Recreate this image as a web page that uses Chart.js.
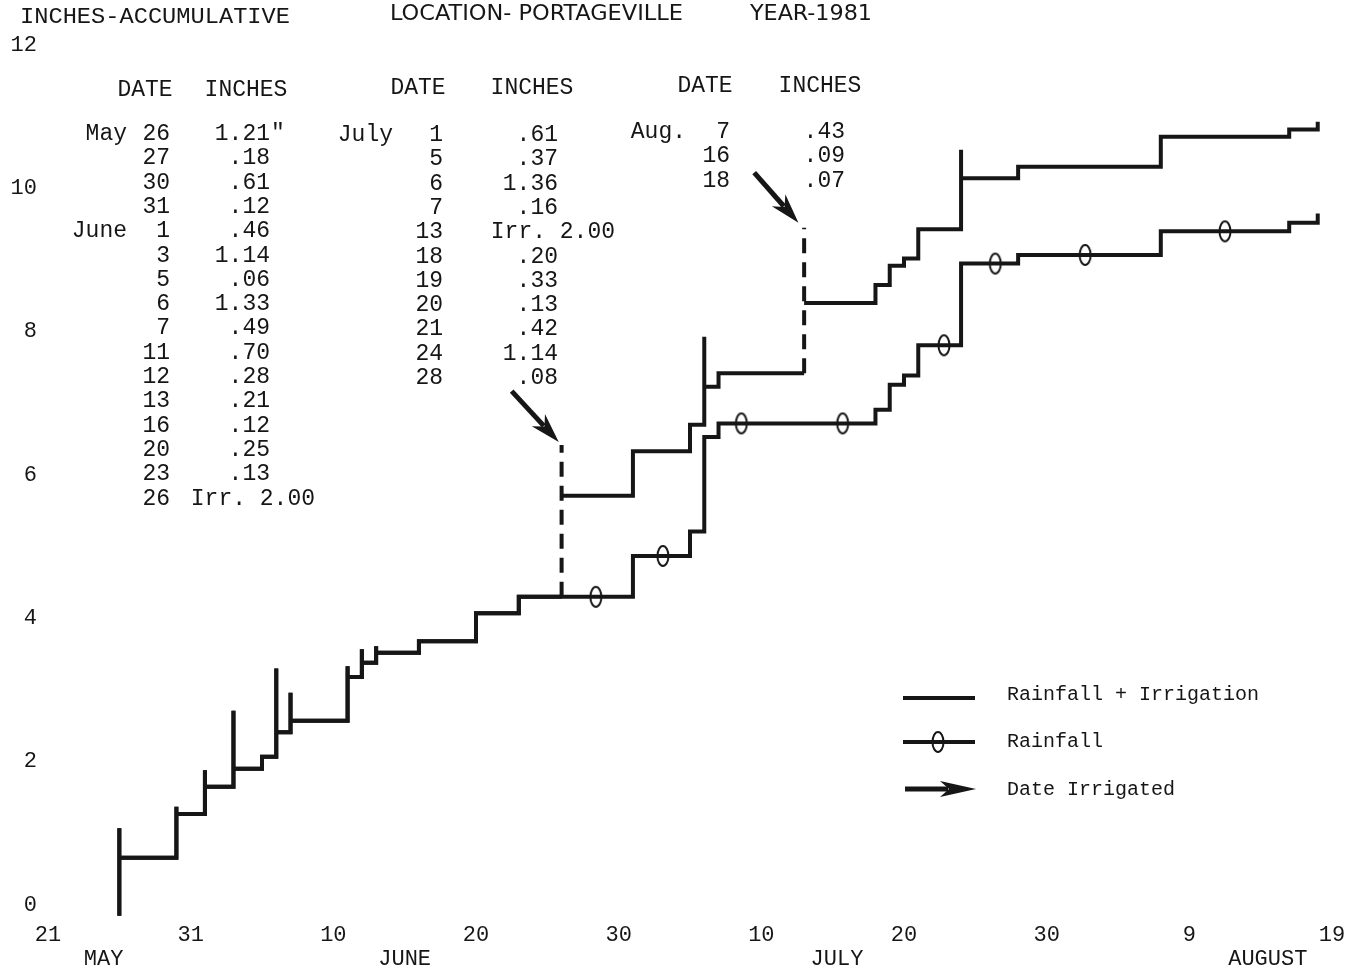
<!DOCTYPE html>
<html>
<head>
<meta charset="utf-8">
<title>Inches accumulative - Portageville 1981</title>
<script src="https://cdn.jsdelivr.net/npm/chart.js@4.4.1/dist/chart.umd.min.js"></script>
<style>
  html, body { margin: 0; padding: 0; background: #fff; }
  #wrap { width: 1355px; height: 976px; position: relative; }
</style>
</head>
<body>
<div id="wrap"><canvas id="rainChart"></canvas></div>
<script>
// x axis counts days from May 21 (0) to Aug 19 (90)
const tickLabels = ['21', '31', '10', '20', '30', '10', '20', '30', '9', '19'];
const monthNames = ['MAY', 'JUNE', 'JULY', 'AUGUST'];
const monthDays = [3.9, 25, 55.3, 85.5];

// Rainfall + Irrigation, cumulative inches as drawn (peaks = top of the overshooting tick)
const rfiDays   = [5, 9, 11, 13, 15, 16, 17, 21, 22, 23, 26, 30, 33, 36, 41, 45, 46, 47, 53, 58, 59, 60, 61, 64, 68, 78, 87, 89];
const rfiLevels = [0.66, 1.27, 1.65, 1.90, 2.07, 2.41, 2.57, 3.18, 3.38, 3.52, 3.68, 4.07, 4.30, 5.71, 6.33, 6.70, 7.23, 7.42, 8.40, 8.65, 8.92, 9.02, 9.43, 10.14, 10.30, 10.72, 10.82, 10.93];
const rfiPeaks  = [1.07, 1.37, 1.88, 2.71, null, 3.30, 2.96, 3.33, 3.57, 3.61, null, null, null, 6.42, null, null, 7.93, null, 9.45, null, null, null, null, 10.54, null, null, null, null];

// Rainfall only
const rainDays   = [5, 9, 11, 13, 15, 16, 17, 21, 22, 23, 26, 30, 33, 41, 45, 46, 47, 58, 59, 60, 61, 64, 68, 78, 87, 89];
const rainLevels = [0.66, 1.27, 1.65, 1.90, 2.07, 2.41, 2.57, 3.18, 3.38, 3.52, 3.68, 4.07, 4.30, 4.87, 5.21, 6.53, 6.72, 6.91, 7.26, 7.39, 7.81, 8.95, 9.07, 9.40, 9.52, 9.65];
const rainPeaks  = [1.07, 1.37, 1.88, 2.71, null, 3.30, 2.96, 3.33, 3.57, 3.61, null, null, null, null, null, null, null, null, null, null, null, null, null, null, null, null];

const startLevel = -0.15;
const irrigationDays = [36, 53];

// "0" markers on the rainfall line
const markerDays   = [38.4, 43.1, 48.6, 55.7, 62.8, 66.4, 72.7, 82.5];
const markerLevels = [4.30, 4.87, 6.72, 6.72, 7.81, 8.95, 9.07, 9.40];

// date irrigated arrows
const arrowTailDays   = [32.5, 49.5];
const arrowTailLevels = [7.17, 10.22];
const arrowTipDays    = [35.8, 52.6];
const arrowTipLevels  = [6.46, 9.52];

// typed table
const t1Months = ['May', '', '', '', 'June', '', '', '', '', '', '', '', '', '', '', ''];
const t1Days   = ['26', '27', '30', '31', '1', '3', '5', '6', '7', '11', '12', '13', '16', '20', '23', '26'];
const t1Inches = ['1.21"', '.18', '.61', '.12', '.46', '1.14', '.06', '1.33', '.49', '.70', '.28', '.21', '.12', '.25', '.13', 'Irr. 2.00'];
const t2Months = ['July', '', '', '', '', '', '', '', '', '', ''];
const t2Days   = ['1', '5', '6', '7', '13', '18', '19', '20', '21', '24', '28'];
const t2Inches = ['.61', '.37', '1.36', '.16', 'Irr. 2.00', '.20', '.33', '.13', '.42', '1.14', '.08'];
const t3Months = ['Aug.', '', ''];
const t3Days   = ['7', '16', '18'];
const t3Inches = ['.43', '.09', '.07'];

const INK = '#161616';
const MONO = '"Liberation Mono", "DejaVu Sans Mono", monospace';

function buildSteps(days, levels, peaks) {
    const pts = [{x: days[0], y: startLevel}];
    let prev = startLevel;
    days.forEach((d, i) => {
        if (irrigationDays.includes(d)) pts.push({x: d, y: prev});
        if (peaks[i] != null) pts.push({x: d, y: peaks[i]});
        pts.push({x: d, y: levels[i]});
        prev = levels[i];
    });
    return pts;
}

function isIrrigationJump(ctx) {
    return ctx.p0.parsed.x === ctx.p1.parsed.x && irrigationDays.includes(ctx.p0.parsed.x);
}

// tall narrow ring for the rainfall markers
const ring = document.createElement('canvas');
ring.width = 16; ring.height = 26;
(function () {
    const c = ring.getContext('2d');
    c.strokeStyle = INK; c.lineWidth = 2;
    c.beginPath(); c.ellipse(8, 13, 5.5, 10, 0, 0, Math.PI * 2); c.stroke();
})();

function drawArrow(ctx, x1, y1, x2, y2, headLen, headW) {
    const ang = Math.atan2(y2 - y1, x2 - x1);
    const len = Math.hypot(x2 - x1, y2 - y1);
    ctx.save();
    ctx.translate(x2, y2); ctx.rotate(ang);
    ctx.fillStyle = INK; ctx.strokeStyle = INK; ctx.lineWidth = 5;
    ctx.beginPath(); ctx.moveTo(-len, 0); ctx.lineTo(-headLen + 8, 0); ctx.stroke();
    ctx.beginPath();
    ctx.moveTo(0, 0); ctx.lineTo(-headLen, -headW); ctx.lineTo(-headLen + 9, 0); ctx.lineTo(-headLen, headW);
    ctx.closePath(); ctx.fill();
    ctx.restore();
}

function fitText(ctx, text, x, y, w) {
    const m = ctx.measureText(text).width;
    ctx.save(); ctx.translate(x, y); ctx.scale(w / m, 1); ctx.fillText(text, 0, 0); ctx.restore();
}

function drawTable(ctx, months, days, inches, lay) {
    ctx.font = '23px ' + MONO;
    ctx.textBaseline = 'middle';
    ctx.textAlign = 'center';
    ctx.fillText('DATE', lay.dateX, lay.headY);
    ctx.fillText('INCHES', lay.inchX, lay.headY);
    days.forEach((d, i) => {
        const y = lay.rowY + i * 24.3;
        ctx.textAlign = 'right';
        if (months[i]) ctx.fillText(months[i], lay.monthR, y);
        ctx.fillText(d, lay.dayR, y);
        let v = inches[i];
        if (v.startsWith('Irr')) {
            ctx.fillText(v, lay.irrR, y);
        } else if (v.endsWith('"')) {
            ctx.fillText(v.slice(0, -1), lay.valR, y);
            ctx.textAlign = 'left';
            ctx.fillText('"', lay.valR + 1, y);
        } else {
            ctx.fillText(v, lay.valR, y);
        }
    });
}

const decorations = {
    id: 'decorations',
    afterDraw(chart) {
        const ctx = chart.ctx, xs = chart.scales.x, ys = chart.scales.y;
        ctx.save();
        ctx.fillStyle = INK;

        // header line
        ctx.textBaseline = 'middle'; ctx.textAlign = 'left';
        ctx.font = '22px ' + MONO;
        fitText(ctx, 'INCHES-ACCUMULATIVE', 20, 17, 270);
        ctx.font = '22px "Liberation Sans Narrow", "DejaVu Sans Condensed", "Liberation Sans", sans-serif';
        fitText(ctx, 'LOCATION- PORTAGEVILLE', 390, 14, 293);
        fitText(ctx, 'YEAR-1981', 750, 14, 122);

        // month names under the day ticks
        ctx.font = '22px ' + MONO; ctx.textAlign = 'center';
        monthNames.forEach((m, i) => ctx.fillText(m, xs.getPixelForValue(monthDays[i]), 959));

        // typed rainfall table
        drawTable(ctx, t1Months, t1Days, t1Inches, {dateX: 145, inchX: 246, headY: 90, rowY: 134, monthR: 127, dayR: 170, valR: 270, irrR: 315});
        drawTable(ctx, t2Months, t2Days, t2Inches, {dateX: 418, inchX: 532, headY: 88, rowY: 135, monthR: 393, dayR: 443, valR: 558, irrR: 615});
        drawTable(ctx, t3Months, t3Days, t3Inches, {dateX: 705, inchX: 820, headY: 86, rowY: 132, monthR: 686, dayR: 730, valR: 845, irrR: 900});

        // irrigation arrows
        arrowTipDays.forEach((d, i) => {
            drawArrow(ctx, xs.getPixelForValue(arrowTailDays[i]), ys.getPixelForValue(arrowTailLevels[i]),
                xs.getPixelForValue(d), ys.getPixelForValue(arrowTipLevels[i]), 30, 9);
        });

        // legend
        ctx.strokeStyle = INK; ctx.lineWidth = 4;
        ctx.beginPath(); ctx.moveTo(903, 698); ctx.lineTo(975, 698); ctx.stroke();
        ctx.beginPath(); ctx.moveTo(903, 742); ctx.lineTo(975, 742); ctx.stroke();
        ctx.drawImage(ring, 938 - ring.width / 2, 742 - ring.height / 2);
        drawArrow(ctx, 905, 789, 976, 789, 36, 8);
        ctx.font = '20px ' + MONO; ctx.textAlign = 'left'; ctx.textBaseline = 'middle';
        ctx.fillText('Rainfall + Irrigation', 1007, 695);
        ctx.fillText('Rainfall', 1007, 742);
        ctx.fillText('Date Irrigated', 1007, 790);
        ctx.restore();
    }
};

function loadChart() {
    const ctx = document.getElementById('rainChart').getContext('2d');
    new Chart(ctx, {
        type: 'line',
        data: {
            datasets: [{
                label: 'Rainfall + Irrigation',
                data: buildSteps(rfiDays, rfiLevels, rfiPeaks),
                borderColor: INK,
                borderWidth: 4,
                stepped: true,
                pointRadius: 0,
                clip: false,
                segment: {
                    borderDash: c => isIrrigationJump(c) ? [15, 9] : undefined,
                    borderColor: c => (isIrrigationJump(c) && c.p1.parsed.y < c.p0.parsed.y) ? 'rgba(0,0,0,0)' : undefined
                }
            }, {
                label: 'Rainfall',
                data: buildSteps(rainDays, rainLevels, rainPeaks),
                borderColor: INK,
                borderWidth: 4,
                stepped: true,
                pointRadius: 0,
                clip: false
            }, {
                label: 'Rainfall markers',
                data: markerDays.map((d, i) => ({x: d, y: markerLevels[i]})),
                showLine: false,
                pointStyle: ring,
                pointRadius: 6,
                clip: false
            }]
        },
        options: {
            responsive: true,
            maintainAspectRatio: false,
            animation: false,
            events: [],
            layout: { padding: { top: 45, right: 23, left: 0, bottom: 0 } },
            plugins: { legend: { display: false }, tooltip: { enabled: false } },
            scales: {
                x: {
                    type: 'linear', min: 0, max: 90,
                    afterFit: s => { s.height = 71; s.paddingLeft = 0; s.paddingRight = 0; },
                    grid: { display: false, drawTicks: false },
                    border: { display: false },
                    ticks: {
                        stepSize: 10, autoSkip: false, maxRotation: 0, padding: 17,
                        color: INK, font: { family: MONO, size: 22 },
                        callback: v => tickLabels[Math.round(v / 10)]
                    }
                },
                y: {
                    min: 0, max: 12,
                    afterFit: s => { s.width = 48; },
                    grid: { display: false, drawTicks: false },
                    border: { display: false },
                    ticks: {
                        stepSize: 2, padding: 11,
                        color: INK, font: { family: MONO, size: 22 }
                    }
                }
            }
        },
        plugins: [decorations]
    });
}

document.addEventListener('DOMContentLoaded', loadChart);
</script>
</body>
</html>
